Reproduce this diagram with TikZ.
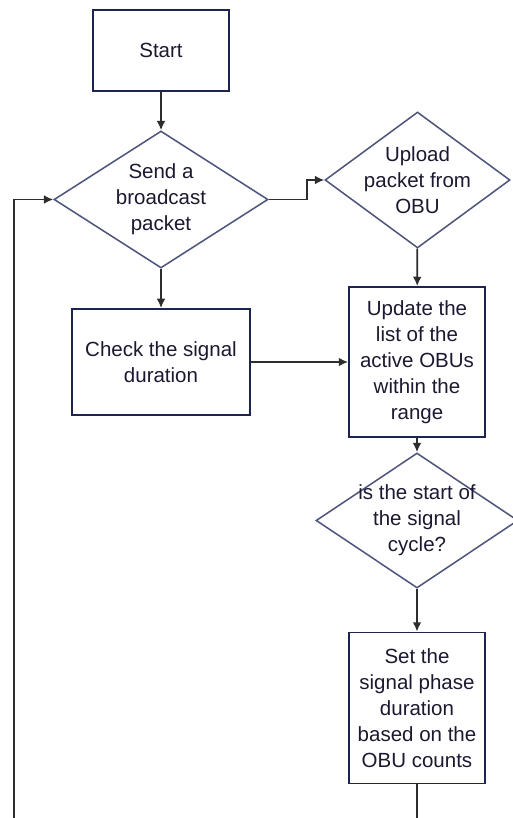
\documentclass[tikz,border=0pt]{standalone}
\usepackage{fontspec}
\setmainfont{Liberation Sans}
\usepackage{xcolor}
\usetikzlibrary{shapes.geometric, arrows.meta}
\definecolor{boxline}{RGB}{30,35,80}
\definecolor{diamline}{RGB}{78,84,122}
\definecolor{flowline}{RGB}{45,45,45}
\definecolor{textcol}{RGB}{28,24,48}

\begin{document}
\begin{tikzpicture}[x=0.03cm, y=-0.03cm, >={Latex[length=8pt,width=7.5pt]},
    process/.style={rectangle, draw=boxline, line width=1.5pt, align=center, inner sep=2pt},
    decision/.style={diamond, draw=diamline, line width=1.3pt, align=center, inner sep=-14pt},
    flow/.style={->, draw=flowline, line width=1.5pt},
    font=\fontsize{17.5}{22.2}\selectfont, text=textcol]

      \useasboundingbox (0,0) rectangle (513,818);
      \clip (0,0) rectangle (513,818);

      \node[process, minimum width=4.08cm, minimum height=2.43cm] (start) at (161,50.5) {Start};
      \node[decision, minimum width=6.42cm, minimum height=4.11cm] (send) at (161,199.5) {Send a\\broadcast\\packet};
      \node[process, minimum width=5.34cm, minimum height=3.18cm] (check) at (161,362) {Check the signal\\duration};
      \node[decision, minimum width=5.55cm, minimum height=4.08cm] (upload) at (417.5,180) {Upload\\packet from\\OBU};
      \node[process, minimum width=4.08cm, minimum height=4.5cm] (update) at (417,362) {Update the\\list of the\\active OBUs\\within the\\range};
      \node[decision, minimum width=6.06cm, minimum height=4.05cm] (cycle) at (417,520.5) {is the start of\\the signal\\cycle?};
      \node[process, minimum width=4.08cm, minimum height=4.53cm] (phase) at (417,708) {Set the\\signal phase\\duration\\based on the\\OBU counts};

      \coordinate (loopend) at (14,840);
      \coordinate (phaseend) at (417,840);

      \draw[flow] (start) -- (send);
      \draw[flow] (send.east) -- ++(38,0) |- (upload.west);
      \draw[flow] (loopend) |- (send.west);
      \draw[flow] (send) -- (check);
      \draw[flow] (check) -- (update);
      \draw[flow] (upload) -- (update);
      \draw[flow] (update) -- (cycle);
      \draw[flow] (cycle) -- (phase);
      \draw[flow, -] (phase) -- (phaseend);

    \end{tikzpicture}
\end{document}
